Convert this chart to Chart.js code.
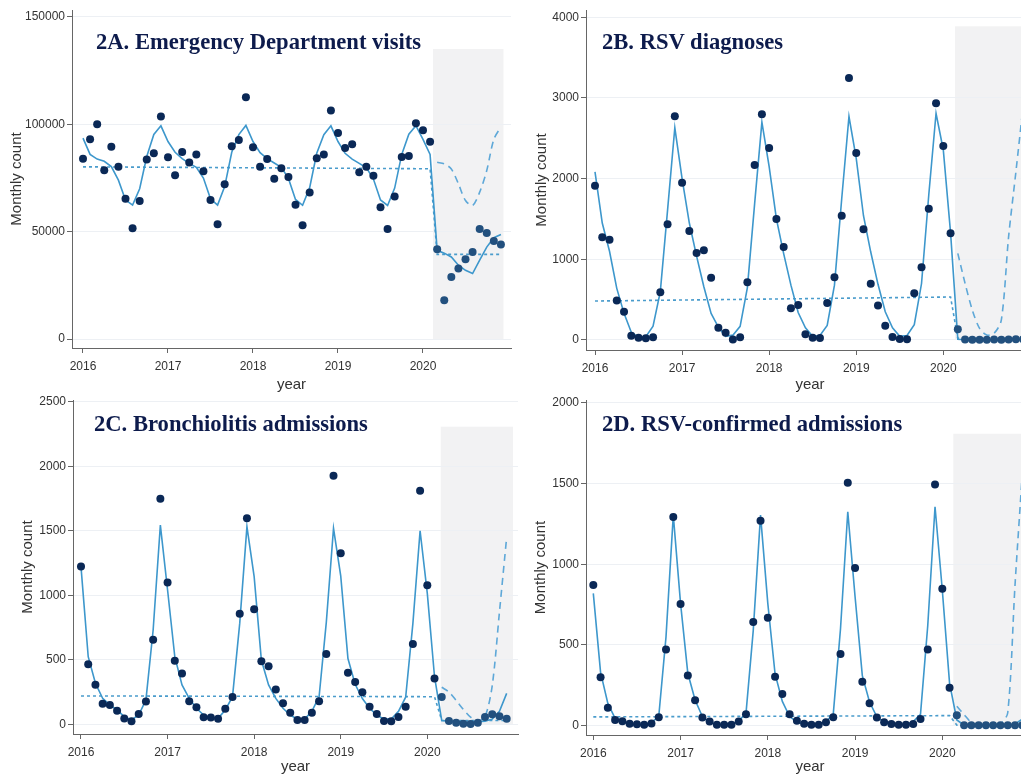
<!DOCTYPE html>
<html>
<head>
<meta charset="utf-8">
<script src="https://cdn.jsdelivr.net/npm/chart.js@4.4.1/dist/chart.umd.min.js"></script>
<style>
    html, body { margin: 0; padding: 0; background: #fff; overflow: hidden; width: 1021px; height: 774px; }
    canvas { position: absolute; }
    .head {
        position: absolute; white-space: nowrap;
        font-family: "Liberation Serif", "Times New Roman", serif;
        font-weight: bold; font-size: 22.6px; line-height: 22.6px; color: #0d1b4c;
    }
</style>
</head>
<body>
<canvas id="cA" width="515" height="394" style="left:0;top:0"></canvas>
<canvas id="cB" width="530" height="394" style="left:515px;top:0"></canvas>
<canvas id="cC" width="525" height="386" style="left:0;top:390px"></canvas>
<canvas id="cD" width="530" height="386" style="left:515px;top:390px"></canvas>
<div class="head" style="left:96px;top:31px">2A. Emergency Department visits</div>
<div class="head" style="left:602px;top:31px">2B. RSV diagnoses</div>
<div class="head" style="left:94px;top:413px">2C. Bronchiolitis admissions</div>
<div class="head" style="left:602px;top:413px">2D. RSV-confirmed admissions</div>
<script>
"use strict";

// monthly values, Jan 2016 .. Dec 2020
const obsA = [84000, 93000, 100000, 78600, 89500, 80200, 65300, 51600, 64300, 83600, 86500, 103700,
    84700, 76300, 87100, 82200, 86000, 78100, 64800, 53500, 72100, 89800, 92700, 112600,
    89300, 80200, 83900, 74700, 79500, 75500, 62500, 53000, 68200, 84200, 86000, 106400,
    96000, 89000, 90700, 77700, 80200, 76000, 61400, 51300, 66400, 84800, 85300, 100500,
    97200, 91900, 41800, 18100, 28900, 32800, 37100, 40500, 51200, 49400, 45600, 44000];
const fitA = [93600, 86000, 83800, 82800, 80300, 74000, 64800, 62400, 70000, 85000, 95300, 99300,
    92000, 87000, 84000, 81800, 80000, 75000, 65300, 62400, 71000, 87000, 95200, 99500,
    92000, 86800, 84000, 82000, 80000, 74800, 65000, 62300, 70500, 86500, 95200, 99300,
    92000, 86500, 83800, 81800, 79800, 74500, 64800, 62200, 70300, 86000, 95400, 99400,
    93000, 86000, 41300, 40000, 38200, 34400, 32000, 30500, 36700, 42800, 47200, 48700];
const cfA = [82300, 81600, 79200, 72300, 64500, 62200, 68400, 78500, 93000, 98800]; // Mar..Dec 2020
const trendA = [80200, 79300, 39400, 39400];

const obsB = [1913, 1273, 1244, 488, 351, 54, 29, 21, 33, 591, 1434, 2773,
    1950, 1351, 1079, 1112, 773, 153, 91, 5, 33, 715, 2169, 2798,
    2380, 1500, 1153, 393, 434, 70, 29, 25, 459, 777, 1541, 3248,
    2318, 1372, 698, 426, 178, 37, 12, 8, 579, 901, 1628, 2934,
    2405, 1322, 132, 5, 3, 4, 3, 5, 4, 6, 8, 10];
const fitB = [2084, 1450, 1100, 640, 330, 95, 35, 40, 170, 600, 1610, 2630,
    2000, 1450, 1040, 660, 330, 160, 45, 60, 170, 650, 1690, 2700,
    2150, 1500, 1070, 680, 340, 150, 45, 55, 180, 680, 1750, 2770,
    2250, 1540, 1090, 690, 350, 150, 45, 55, 190, 700, 1800, 2810,
    2355, 1330, 10, 3, 2, 2, 2, 2, 2, 3, 3, 4];
const cfB = [1073, 702, 371, 144, 62, 83, 248, 1281, 2080, 2900];
const trendB = [483, 533, 20, 15];

const obsC = [1222, 465, 307, 160, 150, 106, 46, 23, 80, 176, 656, 1748,
    1098, 493, 393, 178, 132, 54, 52, 44, 121, 212, 857, 1596,
    891, 488, 449, 269, 163, 90, 34, 34, 90, 178, 545, 1927,
    1325, 400, 328, 248, 137, 80, 26, 23, 57, 137, 622, 1810,
    1077, 356, 212, 26, 13, 5, 3, 13, 57, 78, 62, 44];
const fitC = [1220, 524, 318, 201, 150, 111, 59, 34, 72, 189, 731, 1544,
    1041, 524, 305, 201, 124, 72, 46, 46, 111, 214, 782, 1532,
    1144, 498, 305, 201, 124, 72, 40, 40, 100, 214, 790, 1519,
    1150, 510, 310, 200, 125, 72, 40, 40, 100, 210, 780, 1500,
    1015, 369, 30, 25, 20, 15, 15, 20, 25, 40, 100, 240];
const cfC = [287, 250, 185, 115, 55, 25, 60, 300, 870, 1450];
const trendC = [220, 214, 30, 30];

const obsD = [871, 299, 111, 35, 27, 12, 8, 6, 14, 52, 471, 1292,
    753, 310, 157, 50, 25, 6, 6, 6, 25, 70, 642, 1269,
    669, 303, 196, 70, 31, 12, 6, 6, 21, 52, 444, 1505,
    976, 272, 138, 50, 21, 10, 6, 6, 10, 41, 471, 1494,
    848, 235, 64, 2, 2, 2, 2, 2, 2, 3, 3, 3];
const fitD = [819, 330, 138, 45, 25, 10, 5, 5, 20, 56, 550, 1304,
    757, 324, 159, 56, 20, 8, 5, 5, 30, 76, 590, 1304,
    757, 320, 150, 56, 22, 8, 5, 5, 25, 70, 600, 1325,
    800, 310, 145, 55, 22, 8, 5, 5, 25, 70, 620, 1356,
    840, 262, 35, 3, 2, 2, 2, 2, 2, 2, 10, 40];
const cfD = [120, 68, 20, 5, 3, 3, 10, 80, 870, 1560];
const trendD = [54, 62, 3, 3];

const trendMonths = [0, 49, 50, 59]; // month index of each trend value
const yearTicks = [2016, 2017, 2018, 2019, 2020];
const ticksA = [0, 50000, 100000, 150000];
const ticksB = [0, 1000, 2000, 3000, 4000];
const ticksC = [0, 500, 1000, 1500, 2000, 2500];
const ticksD = [0, 500, 1000, 1500, 2000];

const lineBlue = '#3d97cc';
const dotNavy = '#0a2856';
const dotPost = '#22507e';

// month index -> decimal year
function toPoints(vals, start) {
    return vals.map((v, i) => ({ x: 2016 + (start + i) / 12, y: v }));
}

// grey box for the pandemic period, drawn under grid and data
const shadePlugin = {
    id: 'shade',
    beforeDraw(chart, args, opts) {
        const { ctx, chartArea, scales: { x, y } } = chart;
        const x0 = x.getPixelForValue(opts.from);
        const x1 = Math.min(x.getPixelForValue(opts.to), chartArea.right);
        const y0 = y.getPixelForValue(0);
        const y1 = y.getPixelForValue(opts.top);
        ctx.save();
        ctx.fillStyle = '#f2f2f3';
        ctx.fillRect(x0, y1, x1 - x0, y0 - y1);
        ctx.restore();
    }
};

function makePanel(id, p) {
    const ctx = document.getElementById(id).getContext('2d');
    return new Chart(ctx, {
        type: 'line',
        data: {
            datasets: [
                {
                    data: toPoints(p.obs, 0),
                    showLine: false,
                    pointRadius: 4,
                    pointBorderWidth: 0,
                    pointBackgroundColor: p.obs.map((v, i) => i >= 50 ? dotPost : dotNavy)
                },
                {
                    data: toPoints(p.fit, 0),
                    borderColor: lineBlue, borderWidth: 1.6, pointRadius: 0, tension: p.tension || 0
                },
                {
                    data: toPoints(p.cf, 50),
                    borderColor: '#5ea8d8', borderWidth: 1.6, borderDash: [7, 5], pointRadius: 0, tension: 0.3
                },
                {
                    data: p.trend.map((v, i) => ({ x: 2016 + trendMonths[i] / 12, y: v })),
                    borderColor: '#4a9ccc', borderWidth: 1.6, borderDash: [3, 3], pointRadius: 0
                }
            ]
        },
        options: {
            responsive: false,
            animation: false,
            layout: { padding: { left: 0, top: 10, right: p.padRight, bottom: 0 } },
            plugins: {
                legend: { display: false },
                tooltip: { enabled: false },
                shade: p.shade
            },
            scales: {
                x: {
                    type: 'linear', min: p.xMin, max: p.xMax,
                    afterBuildTicks: s => { s.ticks = yearTicks.map(v => ({ value: v })); },
                    afterFit: s => { s.height = p.xh; },
                    grid: { drawOnChartArea: false, color: '#666', tickLength: 5 },
                    border: { color: '#666' },
                    ticks: { padding: 6, color: '#333', font: { family: 'Liberation Sans', size: 12 }, callback: v => String(v) },
                    title: { display: true, text: 'year', color: '#333', font: { family: 'Liberation Sans', size: 15 }, padding: 0 }
                },
                y: {
                    min: p.yMin, max: p.yMax,
                    afterBuildTicks: s => { s.ticks = p.yTicks.map(v => ({ value: v })); },
                    afterFit: s => { s.width = p.yw; },
                    grid: { color: '#edf0f4', tickColor: '#666', tickLength: 5 },
                    border: { color: '#666' },
                    ticks: { padding: 2, color: '#333', font: { family: 'Liberation Sans', size: 12 }, callback: v => String(v) },
                    title: { display: true, text: 'Monthly count', color: '#333', font: { family: 'Liberation Sans', size: 15 }, padding: { top: p.titlePad, bottom: 0 } }
                }
            }
        },
        plugins: [shadePlugin]
    });
}

makePanel('cA', {
    obs: obsA, fit: fitA, cf: cfA, trend: trendA, yTicks: ticksA,
    xMin: 2015.8706, xMax: 2021.0353, yMin: -4192, yMax: 153260,
    yw: 72, xh: 46, padRight: 4, titlePad: 8,
    shade: { from: 2020.118, to: 2020.947, top: 135100 }
});
makePanel('cB', {
    obs: obsB, fit: fitB, cf: cfB, trend: trendB, yTicks: ticksB,
    xMin: 2015.8966, xMax: 2021.0416, yMin: -124, yMax: 4090,
    yw: 71, xh: 44, padRight: 11, titlePad: 18,
    shade: { from: 2020.134, to: 2021.2, top: 3888 }
});
makePanel('cC', {
    obs: obsC, fit: fitC, cf: cfC, trend: trendC, yTicks: ticksC,
    xMin: 2015.9076, xMax: 2021.0476, yMin: -75, yMax: 2513,
    yw: 73, xh: 42, padRight: 7, titlePad: 19,
    shade: { from: 2020.155, to: 2020.99, top: 2306 }
});
makePanel('cD', {
    obs: obsD, fit: fitD, cf: cfD, trend: trendD, yTicks: ticksD,
    xMin: 2015.9163, xMax: 2021.051, yMin: -58, yMax: 2017,
    yw: 71, xh: 41, padRight: 11, titlePad: 17,
    shade: { from: 2020.126, to: 2021.2, top: 1808 }
});
</script>
</body>
</html>
